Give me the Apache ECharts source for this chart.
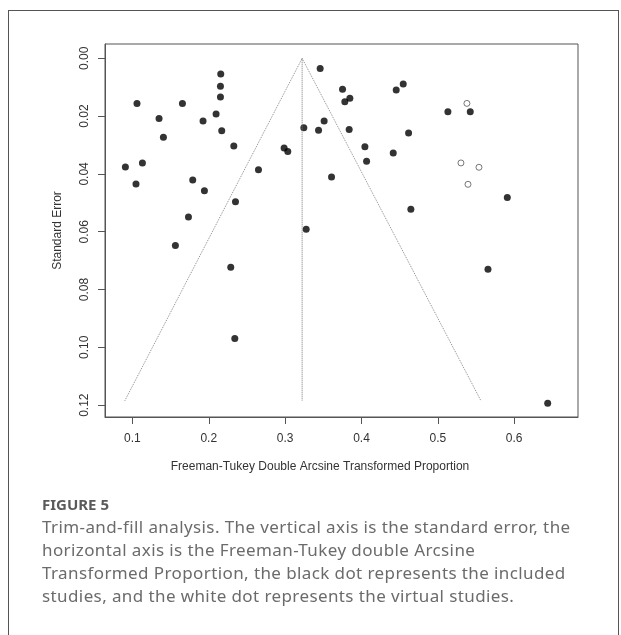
<!DOCTYPE html>
<html>
<head>
<meta charset="utf-8">
<script src="https://cdn.jsdelivr.net/npm/echarts@6/dist/echarts.min.js"></script>
<style>
  html, body { margin: 0; padding: 0; background: #fff; }
  #wrap { position: relative; width: 621px; height: 635px; overflow: hidden; }
  #chart { position: absolute; left: 0; top: 0; width: 621px; height: 635px; }
  #frame { position: absolute; left: 8px; top: 10px; width: 609px; height: 640px; border: 1.5px solid #555; border-bottom: none; pointer-events: none; }
  #caption { position: absolute; left: 42px; top: 494px; font-family: "Noto Sans", sans-serif; color: #6b6b6b; }
  #caption .fig { font-size: 15px; font-weight: 700; color: #5a5a5a; line-height: 20px; }
  #caption .txt { font-size: 17px; letter-spacing: 0.4px; line-height: 23px; white-space: nowrap; margin-top: 1px; }
</style>
</head>
<body>
<div id="wrap">
  <div id="chart"></div>
  <div id="frame"></div>
  <div id="caption">
    <div class="fig">FIGURE 5</div>
    <div class="txt">Trim-and-fill analysis. The vertical axis is the standard error, the<br>horizontal axis is the Freeman-Tukey double Arcsine<br>Transformed Proportion, the black dot represents the included<br>studies, and the white dot represents the virtual studies.</div>
  </div>
</div>
<script>
// included studies (black dots)
const studyTE = [0.106, 0.1655, 0.2157, 0.2153, 0.2153, 0.1349, 0.1925, 0.2096, 0.1406, 0.2170,
    0.2328, 0.0908, 0.1131, 0.1047, 0.1790, 0.1943, 0.2350, 0.2651, 0.2987, 0.3035,
    0.3245, 0.1734, 0.1563, 0.2288, 0.2341, 0.3276, 0.3459, 0.3752, 0.3848, 0.3782,
    0.4455, 0.4547, 0.5132, 0.5425, 0.3438, 0.3511, 0.3839, 0.4617, 0.4045, 0.4067,
    0.4416, 0.3608, 0.5910, 0.4647, 0.5657, 0.6439];
const studySE = [0.0156, 0.0156, 0.0054, 0.0097, 0.0134, 0.0208, 0.0217, 0.0193, 0.0273, 0.0251,
    0.0303, 0.0376, 0.0362, 0.0435, 0.0421, 0.0458, 0.0496, 0.0386, 0.0310, 0.0322,
    0.0240, 0.0549, 0.0648, 0.0723, 0.0969, 0.0591, 0.0035, 0.0107, 0.0138, 0.0150,
    0.0110, 0.0089, 0.0185, 0.0185, 0.0249, 0.0217, 0.0246, 0.0258, 0.0306, 0.0356,
    0.0328, 0.0411, 0.0482, 0.0522, 0.0730, 0.1193];

// filled (virtual) studies (white dots)
const filledTE = [0.5381, 0.5303, 0.5539, 0.5395];
const filledSE = [0.0156, 0.0362, 0.0377, 0.0436];

// funnel: pooled estimate and 95% limits
const funnelTE = [0.090, 0.3223, 0.5565];
const funnelSE = [0.1185, 0, 0.1185];
const centerTE = [0.3223, 0.3223];
const centerSE = [0, 0.1185];

const xTicks = [0.1, 0.2, 0.3, 0.4, 0.5, 0.6];
const yTicks = [0, 0.02, 0.04, 0.06, 0.08, 0.10, 0.12];

const chartDom = document.getElementById('chart');
const myChart = echarts.init(chartDom, null, { renderer: 'canvas' });

const zip = (a, b) => a.map((v, i) => [v, b[i]]);
const axisFont = 'Liberation Sans, Arial, sans-serif';

const option = {
    animation: false,
    grid: {
        left: 105,
        right: 43,
        top: 44,
        bottom: 218,
        show: true,
        borderColor: '#555',
        borderWidth: 1
    },
    xAxis: {
        type: 'value',
        min: 0.0641,
        max: 0.6836,
        name: 'Freeman-Tukey Double Arcsine Transformed Proportion',
        nameLocation: 'middle',
        nameGap: 44,
        nameTextStyle: {
            fontFamily: axisFont,
            fontSize: 12,
            color: '#333',
            padding: [0, 43, 0, 0]
        },
        splitLine: { show: false },
        axisLine: { show: true, onZero: false, lineStyle: { color: '#555' } },
        axisTick: { show: true, length: 7, customValues: xTicks, lineStyle: { color: '#555' } },
        axisLabel: {
            customValues: xTicks,
            margin: 16,
            fontFamily: axisFont,
            fontSize: 12,
            color: '#333',
            formatter: (v) => String(v)
        }
    },
    yAxis: {
        type: 'value',
        inverse: true,
        min: -0.00495,
        max: 0.1241,
        name: 'Standard Error',
        nameLocation: 'middle',
        nameGap: 41,
        nameTextStyle: {
            fontFamily: axisFont,
            fontSize: 12,
            color: '#333'
        },
        splitLine: { show: false },
        axisLine: { show: true, onZero: false, lineStyle: { color: '#555' } },
        axisTick: { show: true, length: 7, customValues: yTicks, lineStyle: { color: '#555' } },
        axisLabel: {
            customValues: yTicks,
            rotate: 90,
            margin: 14,
            fontFamily: axisFont,
            fontSize: 12,
            color: '#333',
            formatter: (v) => v.toFixed(2)
        }
    },
    series: [
        {
            type: 'line',
            data: zip(funnelTE, funnelSE),
            symbol: 'none',
            silent: true,
            lineStyle: { color: '#8a8a8a', width: 1, type: 'dotted' }
        },
        {
            type: 'line',
            data: zip(centerTE, centerSE),
            symbol: 'none',
            silent: true,
            lineStyle: { color: '#777', width: 1, type: 'dotted' }
        },
        {
            type: 'scatter',
            data: zip(studyTE, studySE),
            symbol: 'circle',
            symbolSize: 7,
            itemStyle: { color: '#000' }
        },
        {
            type: 'scatter',
            data: zip(filledTE, filledSE),
            symbol: 'circle',
            symbolSize: 6,
            itemStyle: { color: '#fff', borderColor: '#555', borderWidth: 1 }
        }
    ]
};

myChart.setOption(option);
</script>
</body>
</html>
